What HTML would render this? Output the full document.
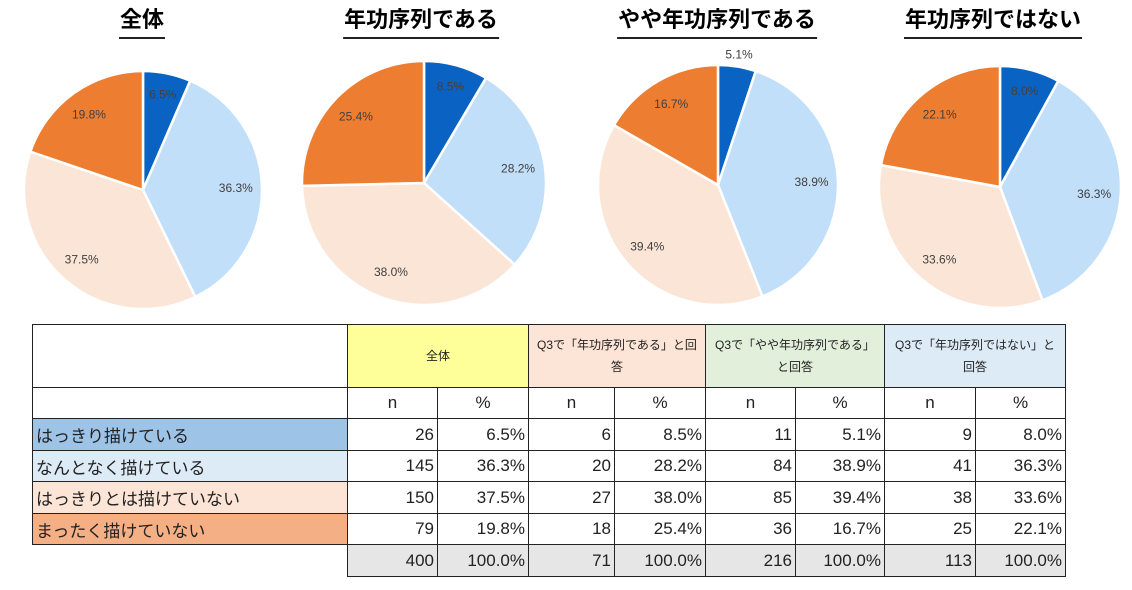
<!DOCTYPE html>
<html><head><meta charset="utf-8">
<style>
body{margin:0;width:1132px;height:590px;background:#fff;position:relative;overflow:hidden;font-family:"Liberation Sans","Noto Sans CJK JP",sans-serif;}
.title{position:absolute;font-size:22px;font-weight:bold;color:#000;text-align:center;border-bottom:2px solid #222;line-height:28px;padding:0 1px 3px;white-space:nowrap;transform:translateX(-50%);}
table{position:absolute;left:32px;top:324px;border-collapse:collapse;table-layout:fixed;}
td{border:1.5px solid #222;padding:0 3px;font-size:17px;color:#222;text-align:right;height:30px;white-space:nowrap;box-sizing:border-box;}
td.h{font-size:12px;text-align:center;line-height:22px;height:63px;white-space:normal;padding:0 5px;}
td.lab{text-align:left;font-size:17px;}
td.c{text-align:center;}
td.tot{background:#e7e6e6;}
td.blank{border:none;}
</style></head><body>
<div class="title" style="left:142px;top:6px">全体</div>
<div class="title" style="left:421px;top:6px">年功序列である</div>
<div class="title" style="left:717px;top:6px">やや年功序列である</div>
<div class="title" style="left:993px;top:6px">年功序列ではない</div>
<svg id="pies" width="1132" height="320" style="position:absolute;left:0;top:0"></svg>
<table>
<colgroup><col style="width:315px"><col style="width:90px"><col style="width:91px"><col style="width:86px"><col style="width:91px"><col style="width:90px"><col style="width:89px"><col style="width:91px"><col style="width:90px"></colgroup>
<tr style="height:63px"><td class="h"></td>
<td class="h" colspan="2" style="background:#ffff99">全体</td>
<td class="h" colspan="2" style="background:#fce4d6">Q3で「年功序列である」と回答</td>
<td class="h" colspan="2" style="background:#e2efda">Q3で「やや年功序列である」と回答</td>
<td class="h" colspan="2" style="background:#ddebf7">Q3で「年功序列ではない」と回答</td></tr>
<tr style="height:31px"><td></td><td class="c">n</td><td class="c">%</td><td class="c">n</td><td class="c">%</td><td class="c">n</td><td class="c">%</td><td class="c">n</td><td class="c">%</td></tr>
<tr style="height:32px"><td class="lab" style="background:#9dc3e6">はっきり描けている</td><td>26</td><td>6.5%</td><td>6</td><td>8.5%</td><td>11</td><td>5.1%</td><td>9</td><td>8.0%</td></tr>
<tr style="height:31px"><td class="lab" style="background:#ddebf7">なんとなく描けている</td><td>145</td><td>36.3%</td><td>20</td><td>28.2%</td><td>84</td><td>38.9%</td><td>41</td><td>36.3%</td></tr>
<tr style="height:32px"><td class="lab" style="background:#fce4d6">はっきりとは描けていない</td><td>150</td><td>37.5%</td><td>27</td><td>38.0%</td><td>85</td><td>39.4%</td><td>38</td><td>33.6%</td></tr>
<tr style="height:31px"><td class="lab" style="background:#f4b084">まったく描けていない</td><td>79</td><td>19.8%</td><td>18</td><td>25.4%</td><td>36</td><td>16.7%</td><td>25</td><td>22.1%</td></tr>
<tr style="height:32px"><td class="blank"></td><td class="tot">400</td><td class="tot">100.0%</td><td class="tot">71</td><td class="tot">100.0%</td><td class="tot">216</td><td class="tot">100.0%</td><td class="tot">113</td><td class="tot">100.0%</td></tr>
</table>
<script>
const groups = ["all","seniority","somewhat-seniority","not-seniority"];
const clearly = [6.5, 8.5, 5.1, 8.0];
const somewhat = [36.3, 28.2, 38.9, 36.3];
const notClearly = [37.5, 38.0, 39.4, 33.6];
const notAtAll = [19.8, 25.4, 16.7, 22.1];
const series = [clearly, somewhat, notClearly, notAtAll];
const colors = ["#0a63c2","#c2dffa","#fbe5d6","#ed7d31"];
const centers = [[143,190,119],[424,183,122],[718,185,120],[1000,187,121]];
const svg = document.getElementById('pies');
const NS = "http://www.w3.org/2000/svg";
groups.forEach((g,gi)=>{
  const [cx,cy,r] = centers[gi];
  const vals = series.map(s=>s[gi]);
  const total = vals.reduce((a,b)=>a+b,0);
  let acc = 0;
  vals.forEach((v,si)=>{
    const a0 = acc/total*2*Math.PI; acc += v;
    const a1 = acc/total*2*Math.PI;
    const x0 = cx+r*Math.sin(a0), y0 = cy-r*Math.cos(a0);
    const x1 = cx+r*Math.sin(a1), y1 = cy-r*Math.cos(a1);
    const large = (a1-a0)>Math.PI?1:0;
    const p = document.createElementNS(NS,'path');
    p.setAttribute('d',`M${cx},${cy} L${x0},${y0} A${r},${r} 0 ${large} 1 ${x1},${y1} Z`);
    p.setAttribute('fill',colors[si]);
    p.setAttribute('stroke','#fff');
    p.setAttribute('stroke-width','2.5');
    
    
    svg.appendChild(p);
    const am = (a0+a1)/2;
    const f = v<6 ? 1.1 : (v<10 ? 0.82 : 0.78);
    const t = document.createElementNS(NS,'text');
    t.setAttribute('x', cx+r*f*Math.sin(am));
    t.setAttribute('y', cy-r*f*Math.cos(am)+4);
    t.setAttribute('text-anchor','middle');
    t.setAttribute('font-size','12');
    t.setAttribute('font-family','"Liberation Sans", sans-serif');
    t.setAttribute('fill','#404040');
    t.textContent = v.toFixed(1)+'%';
    
    
    svg.appendChild(t);
  });
});
</script>
</body></html>
